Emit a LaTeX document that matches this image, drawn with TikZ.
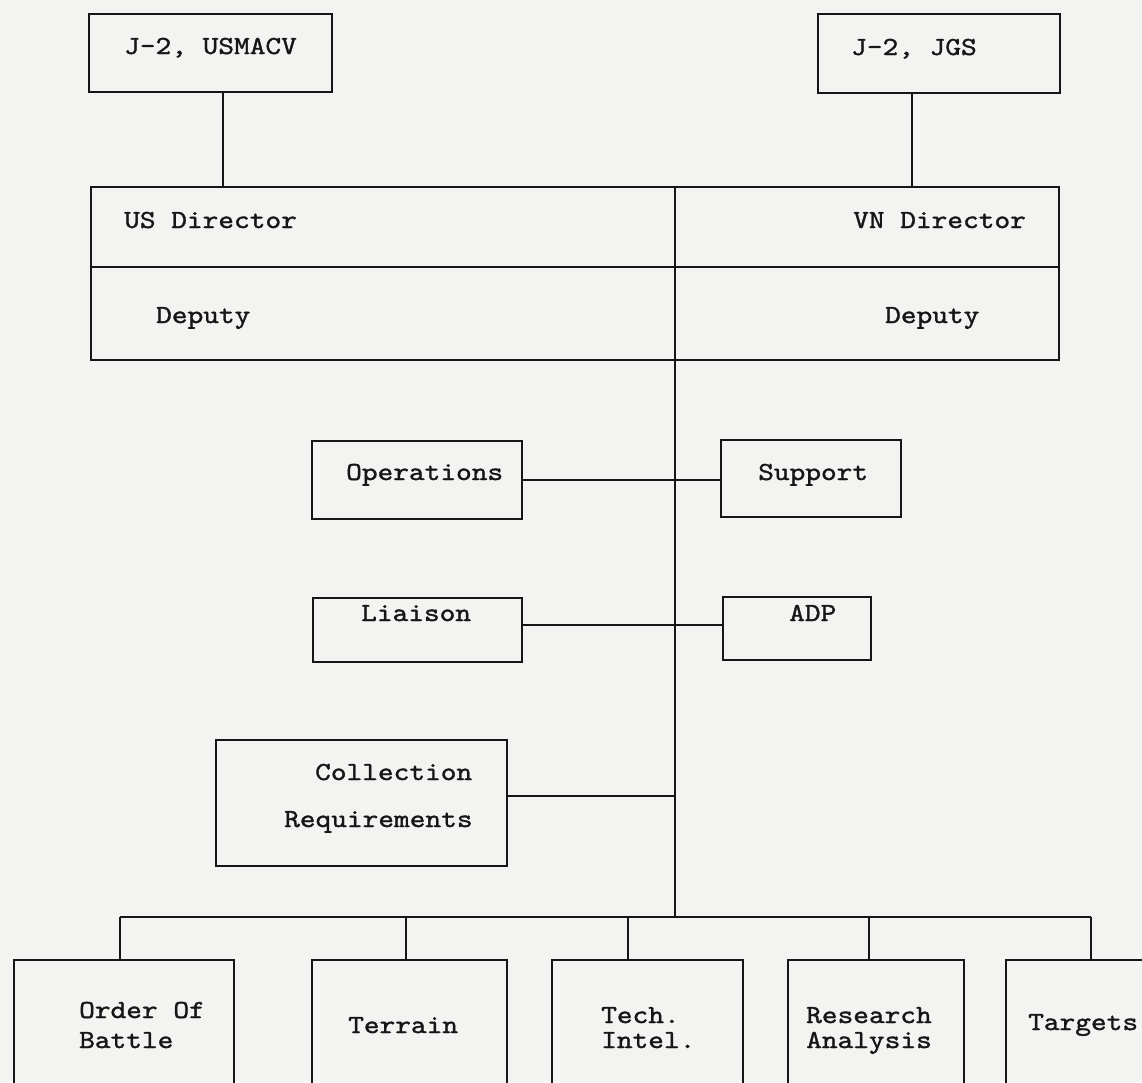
\documentclass[tikz,border=0pt]{standalone}
\usepackage{fontspec}
\usetikzlibrary{calc}
% typewriter face: widened and slightly emboldened to a typewriter pitch
\newfontfamily\typewriter{lmmono10-regular.otf}[FakeBold=1.3,FakeStretch=1.15]
\definecolor{paper}{RGB}{243,243,241}
\definecolor{ink}{RGB}{22,22,22}
% two typed lines, first baseline on the node's baseline
\newcommand\twolines[3]{\vtop{\baselineskip=#3\lineskiplimit=0pt\hbox{#1}\hbox{#2}}}
\begin{document}
\begin{tikzpicture}[x=1pt,y=-1pt,
  box/.style={draw=ink,line width=2.9pt,inner sep=0pt},
  wire/.style={draw=ink,line width=2.9pt},
  txt/.style={font=\typewriter\fontsize{26}{30}\selectfont,inner sep=0pt,
    anchor=base west,text=ink}]
  % page
  \fill[paper] (0,0) rectangle (1142,1082);
  \useasboundingbox (0,0) rectangle (1142,1082);
  \clip (0,0) rectangle (1142,1082);

  % top authorities
  \node[box,minimum width=243pt,minimum height=78pt] (usmacv) at (210.5,53) {};
  \node[box,minimum width=242pt,minimum height=79pt] (jgs) at (939,53.5) {};
  \node[txt] (t-usmacv) at (124,54) {J-2, USMACV};
  \node[txt] (t-jgs) at (851,55) {J-2, JGS};

  % directorate
  \node[box,minimum width=968pt,minimum height=173pt] (dir) at (575,273.5) {};
  \draw[wire] (dir.west |- 0,267) -- (dir.east |- 0,267);
  \node[txt] (t-usdir) at (124,228) {US Director};
  \node[txt] (t-vndir) at (853,228) {VN Director};
  \node[txt] (t-usdep) at (156,323) {Deputy};
  \node[txt] (t-vndep) at (885,323) {Deputy};

  % links to the authorities
  \coordinate (usdrop) at ($(usmacv.south)+(12.5,0)$);
  \coordinate (jgsdrop) at ($(jgs.south)+(-27,0)$);
  \draw[wire] (usdrop) -- (usdrop |- dir.north);
  \draw[wire] (jgsdrop) -- (jgsdrop |- dir.north);

  % spine
  \coordinate (spinetop) at (675,187);
  \coordinate (hub) at (675,917);
  \draw[wire] (spinetop) -- (hub);

  % staff sections
  \node[box,minimum width=210pt,minimum height=78pt] (ops) at (417,480) {};
  \node[box,minimum width=180pt,minimum height=77pt] (sup) at (811,478.5) {};
  \node[txt] (t-ops) at (346,480) {Operations};
  \node[txt] (t-sup) at (758,480) {Support};
  \draw[wire] (ops.east) -- (ops.east -| sup.west);

  \node[box,minimum width=209pt,minimum height=64pt] (lia) at (417.5,630) {};
  \node[box,minimum width=148pt,minimum height=63pt] (adp) at (797,628.5) {};
  \node[txt] (t-lia) at (361,621) {Liaison};
  \node[txt] (t-adp) at (789,621) {ADP};
  \coordinate (lj) at ($(lia.east)+(0,-5)$);
  \draw[wire] (lj) -- (lj -| adp.west);

  \node[box,minimum width=291pt,minimum height=126pt] (coll) at (361.5,803) {};
  \node[txt] (t-coll1) at (315,780) {Collection};
  \node[txt] (t-coll2) at (284,827) {Requirements};
  \coordinate (cj) at ($(coll.east)+(0,-7)$);
  \draw[wire] (cj) -- (cj -| hub);

  % branches
  \node[box,minimum width=220pt,minimum height=150pt] (ob) at (124,1035) {};
  \node[box,minimum width=195pt,minimum height=150pt] (ter) at (409.5,1035) {};
  \node[box,minimum width=191pt,minimum height=150pt] (tech) at (647.5,1035) {};
  \node[box,minimum width=176pt,minimum height=150pt] (ra) at (876,1035) {};
  \node[box,minimum width=164pt,minimum height=150pt] (tgt) at (1088,1035) {};

  \node[txt] (t-ob) at (79,1018) {\twolines{Order Of}{Battle}{30pt}};
  \node[txt] (t-ter) at (348,1033) {Terrain};
  \node[txt] (t-tech) at (601,1023) {\twolines{Tech.}{Intel.}{25pt}};
  \node[txt] (t-ra) at (806,1023) {\twolines{Research}{Analysis}{25pt}};
  \node[txt] (t-tgt) at (1028,1030) {Targets};

  % bus and drops
  \coordinate (d-ob) at (120,917);
  \coordinate (d-ter) at (406,917);
  \coordinate (d-tech) at (628,917);
  \coordinate (d-ra) at (869,917);
  \coordinate (d-tgt) at (1091,917);
  \draw[wire] (d-ob) -- (d-tgt);
  \draw[wire] (d-ob) -- (d-ob |- ob.north);
  \draw[wire] (d-ter) -- (d-ter |- ter.north);
  \draw[wire] (d-tech) -- (d-tech |- tech.north);
  \draw[wire] (d-ra) -- (d-ra |- ra.north);
  \draw[wire] (d-tgt) -- (d-tgt |- tgt.north);
\end{tikzpicture}
\end{document}
